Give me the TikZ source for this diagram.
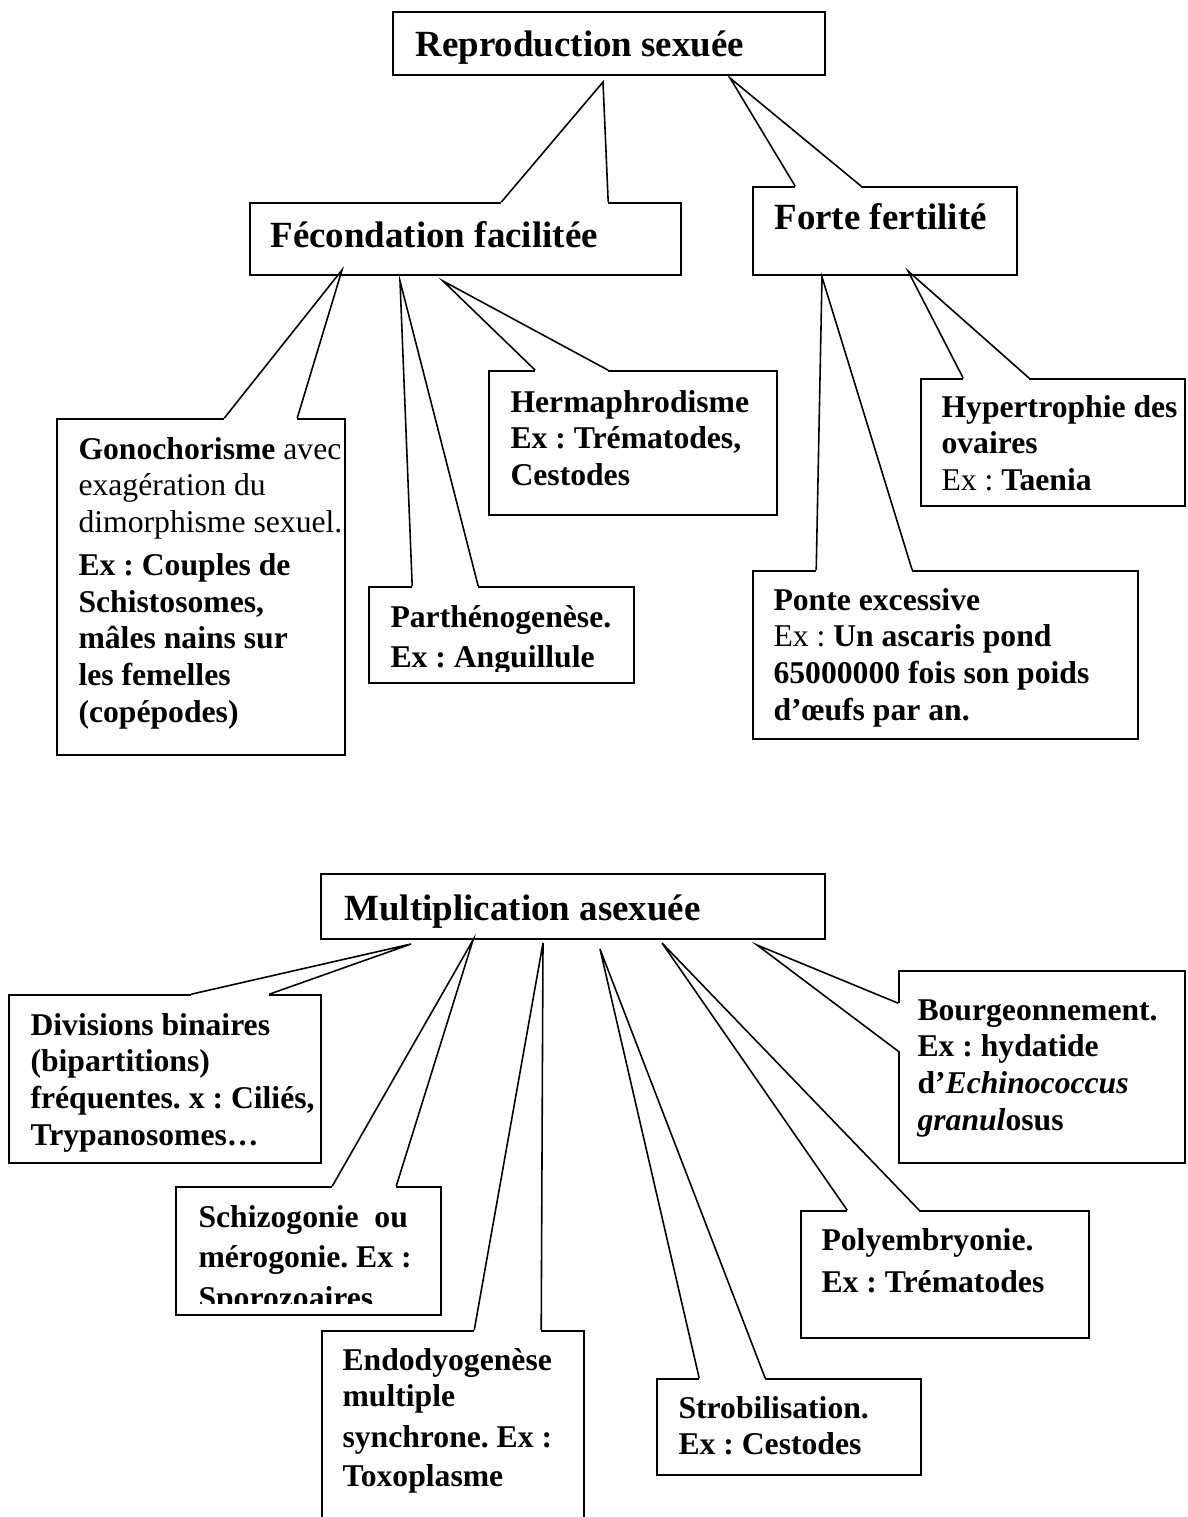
\documentclass[tikz,border=0pt]{standalone}
\usepackage{fontspec}
\setmainfont{Liberation Serif}
\frenchspacing
\usetikzlibrary{calc,fit}

\tikzset{
  box/.style={draw, line width=0.6pt, inner sep=0pt},
  link/.style={line width=0.6pt},
  gap/.style={white, line width=1.6pt},
  head/.style={anchor=base west, inner sep=0pt, font=\fontsize{14}{16}\selectfont\bfseries},
  body/.style={anchor=base west, inner sep=0pt, font=\fontsize{12}{14}\selectfont\bfseries},
}

% lines of a text, first baseline on the node's base
\newcommand{\lines}[1]{\begin{tabular}[t]{@{}l@{}}#1\end{tabular}}

% wedge of a callout: box, tip, two offsets on its top edge
\newcommand{\pointer}[4]{%
  \draw[gap] ($(#1.north west)+(#3,0)$) -- ($(#1.north west)+(#4,0)$);
  \draw[link] ($(#1.north west)+(#3,0)$) -- (#2) -- ($(#1.north west)+(#4,0)$);
}

\begin{document}
\begin{tikzpicture}[x=0.379pt, y=-0.379pt]
\clip (0,0) rectangle (1187,1517);

% Boxes
\node[box, fit={(393,12) (825,75)}] (rep) {};
\node[box, fit={(250,203) (681,275)}] (fec) {};
\node[box, fit={(753,187) (1017,275)}] (forte) {};
\node[box, fit={(57,419) (345,755)}] (gono) {};
\node[box, fit={(369,587) (634,683)}] (parth) {};
\node[box, fit={(489,371) (777,515)}] (herm) {};
\node[box, fit={(753,571) (1138,739)}] (ponte) {};
\node[box, fit={(921,379) (1185,506)}] (hyper) {};

\node[box, fit={(321,874) (825,939)}] (mult) {};
\node[box, fit={(9,995) (321,1163)}] (div) {};
\node[box, fit={(176,1187) (441,1315)}] (schizo) {};
\node[box, fit={(322,1331) (584,1560)}] (endo) {};
\node[box, fit={(657,1379) (921,1475)}] (strob) {};
\node[box, fit={(801,1211) (1089,1338)}] (poly) {};
\node[box, fit={(899,971) (1185,1163)}] (bourg) {};

% Tips
\coordinate (rep-fec) at (603,82);
\coordinate (rep-forte) at (730,78);
\coordinate (fec-gono) at (342,270);
\coordinate (fec-parth) at (400,281);
\coordinate (fec-herm) at (443,281);
\coordinate (forte-ponte) at (822,277);
\coordinate (forte-hyper) at (908,271);
\coordinate (mult-div) at (411,944);
\coordinate (mult-schizo) at (473,940);
\coordinate (mult-endo) at (543,943);
\coordinate (mult-strob) at (600,949);
\coordinate (mult-poly) at (662,943);
\coordinate (mult-bourg) at (757,945);

% Wedges
\pointer{fec}{rep-fec}{252}{359}
\pointer{forte}{rep-forte}{43}{109}
\pointer{gono}{fec-gono}{168}{241}
\pointer{parth}{fec-parth}{44}{110}
\pointer{herm}{fec-herm}{47}{120}
\pointer{ponte}{forte-ponte}{64}{160}
\pointer{hyper}{forte-hyper}{43}{109}
\pointer{div}{mult-div}{183}{261}
\pointer{schizo}{mult-schizo}{157}{221}
\pointer{endo}{mult-endo}{153}{220}
\pointer{strob}{mult-strob}{43}{109}
\pointer{poly}{mult-poly}{47}{119}
\draw[gap] ($(bourg.north west)+(0,33)$) -- ($(bourg.north west)+(0,81)$);
\draw[link] ($(bourg.north west)+(0,33)$) -- (mult-bourg) -- ($(bourg.north west)+(0,81)$);

% Texts
\node[head] (rep-t) at (415,57) {Reproduction sexuée};
\node[head] (fec-t) at (270,248) {Fécondation facilitée};
\node[head] (forte-t) at (774,230) {Forte fertilité};
\node[body] (gono-t) at (78,459) {\lines{Gonochorisme {\mdseries avec}\\ \mdseries exagération du\\ \mdseries dimorphisme sexuel.\\[2pt] Ex : Couples de\\ Schistosomes,\\ mâles nains sur\\ les femelles\\ (copépodes)}};
\begin{scope}
\clip (369,587) rectangle (634,671);
\node[body] (parth-t) at (390,627) {\lines{Parthénogenèse.\\[1.5pt] Ex : Anguillule}};
\end{scope}
\node[body] (herm-t) at (510,412) {\lines{Hermaphrodisme\\ Ex : Trématodes,\\ Cestodes}};
\node[body] (ponte-t) at (773,610) {\lines{Ponte excessive\\ {\mdseries Ex :} Un ascaris pond\\ 65000000 fois son poids\\ d’œufs par an.}};
\node[body] (hyper-t) at (941,417) {\lines{Hypertrophie des\\ ovaires\\ {\mdseries Ex :} Taenia}};

\node[head] (mult-t) at (344,920) {Multiplication asexuée};
\node[body] (div-t) at (30,1035) {\lines{Divisions binaires\\ (bipartitions)\\ fréquentes. x : Ciliés,\\ Trypanosomes…}};
\begin{scope}
\clip (176,1187) rectangle (441,1303);
\node[body] (schizo-t) at (198,1227) {\lines{Schizogonie\ \ ou\\[1.5pt] mérogonie. Ex :\\[1.5pt] Sporozoaires}};
\end{scope}
\node[body] (endo-t) at (342,1370) {\lines{Endodyogenèse\\ multiple\\[1.5pt] synchrone. Ex :\\[0.8pt] Toxoplasme}};
\node[body] (strob-t) at (678,1418) {\lines{Strobilisation.\\ Ex : Cestodes}};
\node[body] (poly-t) at (821,1250) {\lines{Polyembryonie.\\[2pt] Ex : Trématodes}};
\node[body] (bourg-t) at (917,1020) {\lines{Bourgeonnement.\\ Ex : hydatide\\ d’\textit{Echinococcus}\\ \textit{granul}osus}};

\end{tikzpicture}
\end{document}
